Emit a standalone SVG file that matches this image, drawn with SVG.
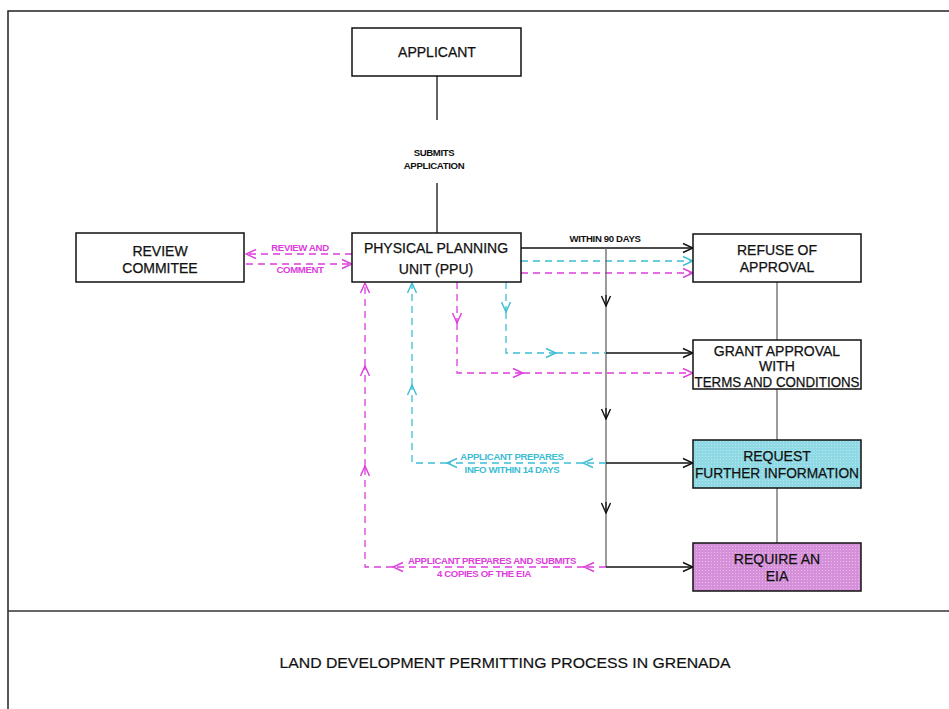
<svg xmlns="http://www.w3.org/2000/svg" width="949" height="709" viewBox="0 0 949 709">
<defs>
<style>
.box{fill:#fff;stroke:#111;stroke-width:1.5}
.t{font-family:"Liberation Sans",Arial,sans-serif;font-size:14px;fill:#111;text-anchor:middle;stroke:#111;stroke-width:0.25}
.s{font-family:"Liberation Sans",Arial,sans-serif;font-size:9.6px;font-weight:bold;text-anchor:middle;letter-spacing:-0.35px}
.blk{stroke:#111;stroke-width:1.3;fill:none}
.gry{stroke:#666;stroke-width:1.3;fill:none}
.cy{stroke:#3cbdd4;stroke-width:1.3;fill:none;stroke-dasharray:7 5}
.mg{stroke:#dd3ddd;stroke-width:1.3;fill:none;stroke-dasharray:7 5}
</style>
<marker id="aB" viewBox="-11 -6 12 12" markerWidth="12" markerHeight="12" refX="0" refY="0" orient="auto" markerUnits="userSpaceOnUse"><path d="M-10,-4.5 L0,0 L-10,4.5" fill="none" stroke="#111" stroke-width="1.4"/></marker>
<marker id="aC" viewBox="-11 -6 12 12" markerWidth="12" markerHeight="12" refX="0" refY="0" orient="auto" markerUnits="userSpaceOnUse"><path d="M-10,-4.5 L0,0 L-10,4.5" fill="none" stroke="#3cbdd4" stroke-width="1.4"/></marker>
<marker id="aM" viewBox="-11 -6 12 12" markerWidth="12" markerHeight="12" refX="0" refY="0" orient="auto" markerUnits="userSpaceOnUse"><path d="M-10,-4.5 L0,0 L-10,4.5" fill="none" stroke="#dd3ddd" stroke-width="1.4"/></marker>
<pattern id="pc" width="3" height="3" patternUnits="userSpaceOnUse"><rect width="3" height="3" fill="#8fd9e4"/><rect width="1" height="1" fill="#b8e9f0"/></pattern>
<pattern id="pm" width="3" height="3" patternUnits="userSpaceOnUse"><rect width="3" height="3" fill="#d690da"/><rect width="1" height="1" fill="#e8bdea"/></pattern>
</defs>
<rect width="949" height="709" fill="#fff"/>
<!-- frame -->
<path d="M949,11 H8 V709" fill="none" stroke="#222" stroke-width="1.5"/>
<line x1="8" y1="611" x2="949" y2="611" stroke="#333" stroke-width="1.5"/>
<text x="505" y="668" class="t" style="font-size:15.5px;stroke-width:0.2" textLength="451" lengthAdjust="spacingAndGlyphs">LAND DEVELOPMENT PERMITTING PROCESS IN GRENADA</text>

<g id="connectors">
<!-- applicant to PPU -->
<line x1="437" y1="76" x2="437" y2="120" class="blk"/>
<line x1="437" y1="183" x2="437" y2="233" class="blk"/>
<text x="434" y="156" class="s" fill="#111">SUBMITS</text>
<text x="434" y="169" class="s" fill="#111">APPLICATION</text>
<!-- review and comment -->
<line x1="352" y1="254" x2="246" y2="254" class="mg" marker-end="url(#aM)"/>
<line x1="246" y1="264" x2="352" y2="264" class="mg" marker-end="url(#aM)"/>
<text x="300" y="251" class="s" fill="#dd3ddd">REVIEW AND</text>
<text x="300" y="273" class="s" fill="#dd3ddd">COMMENT</text>
<!-- within 90 days -->
<line x1="521" y1="248" x2="693" y2="248" class="blk" marker-end="url(#aB)"/>
<text x="605" y="242" class="s" fill="#111">WITHIN 90 DAYS</text>
<line x1="521" y1="261" x2="693" y2="261" class="cy" marker-end="url(#aC)"/>
<line x1="521" y1="273" x2="693" y2="273" class="mg" marker-end="url(#aM)"/>
<!-- vertical trunk -->
<line x1="606" y1="248" x2="606" y2="567" class="gry"/>
<line x1="606" y1="295" x2="606" y2="306" class="blk" marker-end="url(#aB)"/>
<line x1="606" y1="408" x2="606" y2="419" class="blk" marker-end="url(#aB)"/>
<line x1="606" y1="502" x2="606" y2="513" class="blk" marker-end="url(#aB)"/>
<!-- to grant -->
<line x1="606" y1="353" x2="693" y2="353" class="blk" marker-end="url(#aB)"/>
<line x1="506" y1="282" x2="506" y2="312" class="cy" marker-end="url(#aC)"/>
<polyline points="506,312 506,353 556,353" class="cy" marker-end="url(#aC)"/>
<line x1="556" y1="353" x2="606" y2="353" class="cy"/>
<line x1="457" y1="282" x2="457" y2="323" class="mg" marker-end="url(#aM)"/>
<polyline points="457,323 457,373 523,373" class="mg" marker-end="url(#aM)"/>
<line x1="523" y1="373" x2="693" y2="373" class="mg" marker-end="url(#aM)"/>
<!-- right column links -->
<line x1="777" y1="282" x2="777" y2="340" class="gry"/>
<line x1="777" y1="389" x2="777" y2="440" class="gry"/>
<line x1="777" y1="488" x2="777" y2="543" class="gry"/>
<!-- request further info -->
<line x1="606" y1="463" x2="693" y2="463" class="blk" marker-end="url(#aB)"/>
<line x1="606" y1="463" x2="583" y2="463" class="cy" marker-end="url(#aC)"/>
<line x1="583" y1="463" x2="447" y2="463" class="cy" marker-end="url(#aC)"/>
<polyline points="447,463 412,463 412,385" class="cy" marker-end="url(#aC)"/>
<line x1="412" y1="385" x2="412" y2="283" class="cy" marker-end="url(#aC)"/>
<text x="512" y="460" class="s" fill="#3cbdd4">APPLICANT PREPARES</text>
<text x="512" y="473" class="s" fill="#3cbdd4">INFO WITHIN 14 DAYS</text>
<!-- require EIA -->
<line x1="606" y1="567" x2="693" y2="567" class="blk" marker-end="url(#aB)"/>
<line x1="606" y1="567" x2="584" y2="567" class="mg" marker-end="url(#aM)"/>
<line x1="584" y1="567" x2="393" y2="567" class="mg" marker-end="url(#aM)"/>
<polyline points="393,567 365,567 365,466" class="mg" marker-end="url(#aM)"/>
<line x1="365" y1="466" x2="365" y2="366" class="mg" marker-end="url(#aM)"/>
<line x1="365" y1="366" x2="365" y2="283" class="mg" marker-end="url(#aM)"/>
<text x="492" y="564" class="s" fill="#dd3ddd">APPLICANT PREPARES AND SUBMITS</text>
<text x="484" y="577" class="s" fill="#dd3ddd">4 COPIES OF THE EIA</text>
</g>

<g id="applicant">
<rect x="352" y="28" width="169" height="48" class="box"/>
<text x="437" y="57" class="t">APPLICANT</text>
</g>
<g id="ppu">
<rect x="352" y="233" width="169" height="49" class="box"/>
<text x="436" y="253" class="t">PHYSICAL PLANNING</text>
<text x="436" y="274" class="t">UNIT (PPU)</text>
</g>
<g id="review">
<rect x="76" y="233" width="168" height="49" class="box"/>
<text x="160" y="256" class="t">REVIEW</text>
<text x="160" y="273" class="t">COMMITEE</text>
</g>
<g id="refuse">
<rect x="693" y="234" width="168" height="48" class="box"/>
<text x="777" y="255" class="t">REFUSE OF</text>
<text x="777" y="272" class="t">APPROVAL</text>
</g>
<g id="grant">
<rect x="693" y="340" width="168" height="49" class="box"/>
<text x="777" y="356" class="t">GRANT APPROVAL</text>
<text x="777" y="371" class="t">WITH</text>
<text x="777" y="387" class="t" textLength="165" lengthAdjust="spacingAndGlyphs">TERMS AND CONDITIONS</text>
</g>
<g id="request">
<rect x="693" y="440" width="168" height="48" fill="url(#pc)" stroke="#111" stroke-width="1.5"/>
<text x="777" y="461" class="t">REQUEST</text>
<text x="777" y="478" class="t" textLength="164" lengthAdjust="spacingAndGlyphs">FURTHER INFORMATION</text>
</g>
<g id="require">
<rect x="693" y="543" width="168" height="48" fill="url(#pm)" stroke="#111" stroke-width="1.5"/>
<text x="777" y="564" class="t">REQUIRE AN</text>
<text x="777" y="581" class="t">EIA</text>
</g>
</svg>
